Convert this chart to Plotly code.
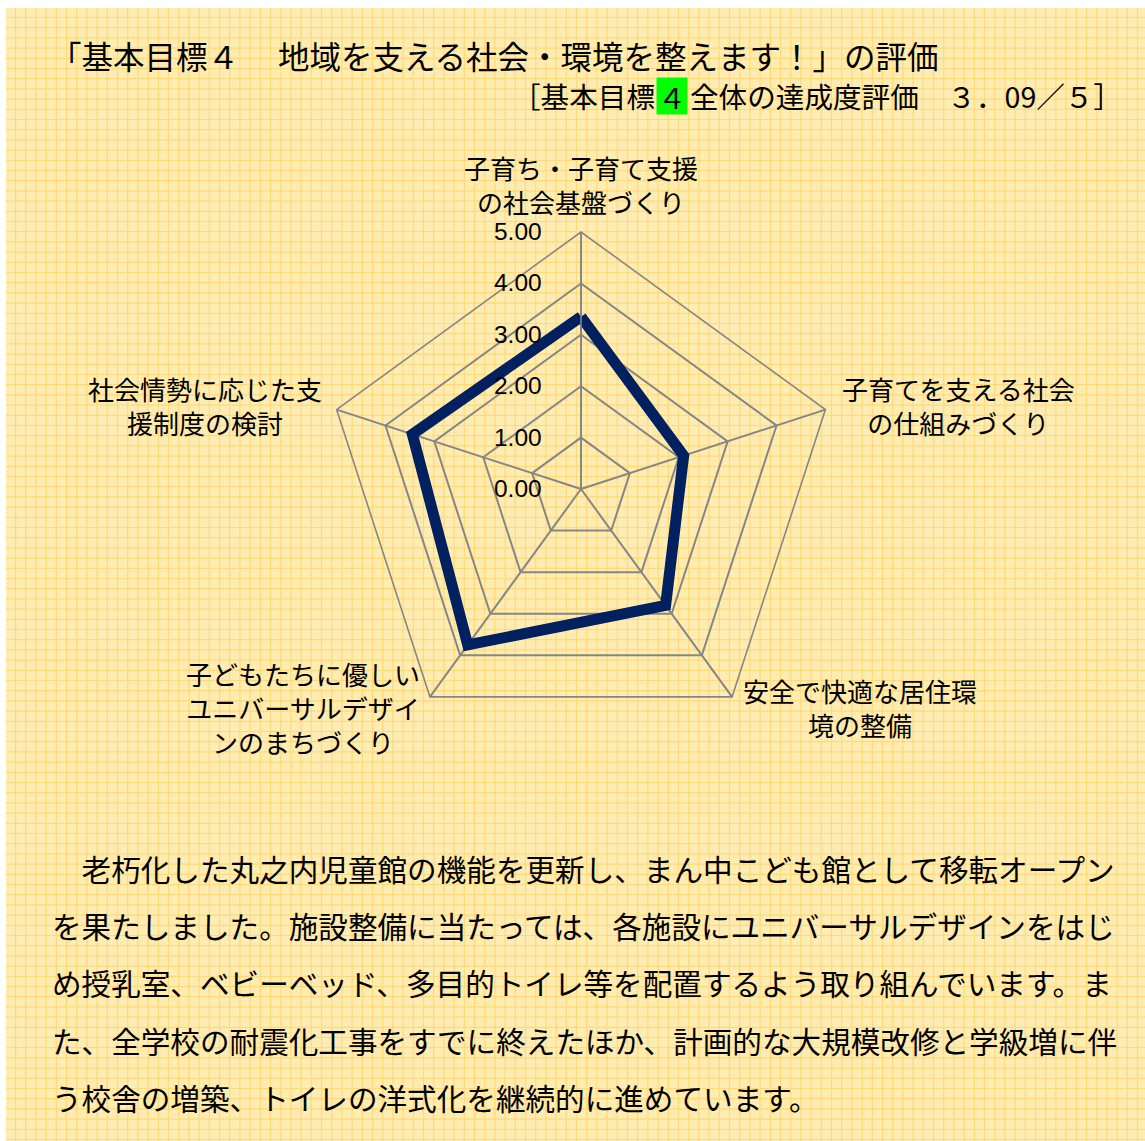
import numpy as np
import plotly.graph_objects as go

# ---------------- data ----------------
categories = [
    "子育ち・子育て支援の社会基盤づくり",
    "子育てを支える社会の仕組みづくり",
    "安全で快適な居住環境の整備",
    "子どもたちに優しいユニバーサルデザインのまちづくり",
    "社会情勢に応じた支援制度の検討",
]
category_labels = [
    "子育ち・子育て支援<br>の社会基盤づくり",
    "子育てを支える社会<br>の仕組みづくり",
    "安全で快適な居住環<br>境の整備",
    "子どもたちに優しい<br>ユニバーサルデザイ<br>ンのまちづくり",
    "社会情勢に応じた支<br>援制度の検討",
]
scores = [3.35, 2.10, 2.80, 3.75, 3.45]
radial_tickvals = [0, 1, 2, 3, 4, 5]

title_part1 = "「基本目標４"
title_part2 = "地域を支える社会・環境を整えます！」の評価"
subtitle_left = "［基本目標"
subtitle_num = "４"
subtitle_right = "全体の達成度評価　３．09／５］"

body_lines = [
    "　老朽化した丸之内児童館の機能を更新し、まん中こども館として移転オープン",
    "を果たしました。施設整備に当たっては、各施設にユニバーサルデザインをはじ",
    "め授乳室、ベビーベッド、多目的トイレ等を配置するよう取り組んでいます。ま",
    "た、全学校の耐震化工事をすでに終えたほか、計画的な大規模改修と学級増に伴",
    "う校舎の増築、トイレの洋式化を継続的に進めています。",
]

# ---------------- layout helpers ----------------
W, H = 1145, 1141
JP = "Noto Sans CJK JP"


def px(x):
    return x / W


def py(y):
    return 1 - y / H


CX, CY, R = 581, 489, 257

fig = go.Figure()

theta = categories + [categories[0]]
r = scores + [scores[0]]
fig.add_trace(
    go.Scatterpolar(
        r=r,
        theta=theta,
        mode="lines",
        line=dict(color="#002060", width=11),
        hoverinfo="skip",
        showlegend=False,
    )
)

GRAY = "#868686"
fig.update_layout(
    width=W,
    height=H,
    margin=dict(l=0, r=0, t=0, b=0),
    paper_bgcolor="white",
    plot_bgcolor="rgba(0,0,0,0)",
    showlegend=False,
    polar=dict(
        domain=dict(x=[px(CX - R), px(CX + R)], y=[py(CY + R), py(CY - R)]),
        bgcolor="rgba(0,0,0,0)",
        gridshape="linear",
        radialaxis=dict(
            range=[0, 5],
            tickvals=radial_tickvals,
            tickformat=".2f",
            angle=90,
            tickangle=90,
            side="counterclockwise",
            ticks="outside",
            ticklen=30,
            tickcolor="rgba(0,0,0,0)",
            showline=True,
            linecolor=GRAY,
            linewidth=1.6,
            gridcolor=GRAY,
            gridwidth=1.6,
            tickfont=dict(family="Liberation Sans, Arial", size=24.5, color="black"),
            layer="above traces",
        ),
        angularaxis=dict(
            direction="clockwise",
            rotation=90,
            showticklabels=False,
            ticks="",
            showline=True,
            linecolor=GRAY,
            linewidth=1.6,
            gridcolor=GRAY,
            gridwidth=1.6,
        ),
    ),
)

# ---------------- background: yellow graph paper ----------------
shapes = [
    dict(
        type="rect", xref="paper", yref="paper",
        x0=px(6), x1=1, y0=0, y1=py(8),
        fillcolor="#FFECB3", line=dict(width=0), layer="below",
    )
]
path = []
for gx in np.arange(15.5, W, 10.2):
    path.append(f"M{px(gx):.5f},{py(8):.5f}L{px(gx):.5f},0")
for gy in np.arange(17.5, H, 10.2):
    path.append(f"M{px(6):.5f},{py(gy):.5f}L1,{py(gy):.5f}")
shapes.append(
    dict(
        type="path", xref="paper", yref="paper", path="".join(path),
        line=dict(color="#FFDA78", width=1.2), layer="below",
    )
)
fig.update_layout(shapes=shapes)

# ---------------- text ----------------
ann = []
# title
ann.append(dict(x=px(48), y=py(55), text=title_part1, xanchor="left", yanchor="middle",
                font=dict(family=JP, size=31.5, color="black")))
ann.append(dict(x=px(276), y=py(55), text=title_part2, xanchor="left", yanchor="middle",
                font=dict(family=JP, size=31.5, color="black")))
# subtitle
ann.append(dict(x=px(657), y=py(96), text=subtitle_left, xanchor="right", yanchor="middle",
                font=dict(family=JP, size=28.6, color="black")))
ann.append(dict(x=px(672), y=py(96), text=subtitle_num, xanchor="center", yanchor="middle",
                width=30, height=36, bgcolor="#00FF00", borderpad=0,
                font=dict(family=JP, size=28.6, color="black")))
ann.append(dict(x=px(688), y=py(96), text=subtitle_right, xanchor="left", yanchor="middle",
                font=dict(family=JP, size=28.6, color="black")))

# category labels around the radar
label_pos = [(581, 184), (958, 406), (860, 707), (303, 707), (205, 406)]
for lab, (lx, ly) in zip(category_labels, label_pos):
    ann.append(dict(x=px(lx), y=py(ly), text=lab, xanchor="center", yanchor="middle",
                    align="center", font=dict(family=JP, size=26, color="black")))

# body paragraph
body_y = [868, 925, 982, 1040, 1097]
for line, by in zip(body_lines, body_y):
    ann.append(dict(x=px(50), y=py(by), text=line, xanchor="left", yanchor="middle",
                    font=dict(family=JP, size=29.6, color="black")))

for a in ann:
    a.update(xref="paper", yref="paper", showarrow=False)
fig.update_layout(annotations=ann)

fig.write_html(
    "out.html",
    config={"displayModeBar": False},
    post_script="document.body.style.margin='0';document.body.style.overflow='hidden';",
)
